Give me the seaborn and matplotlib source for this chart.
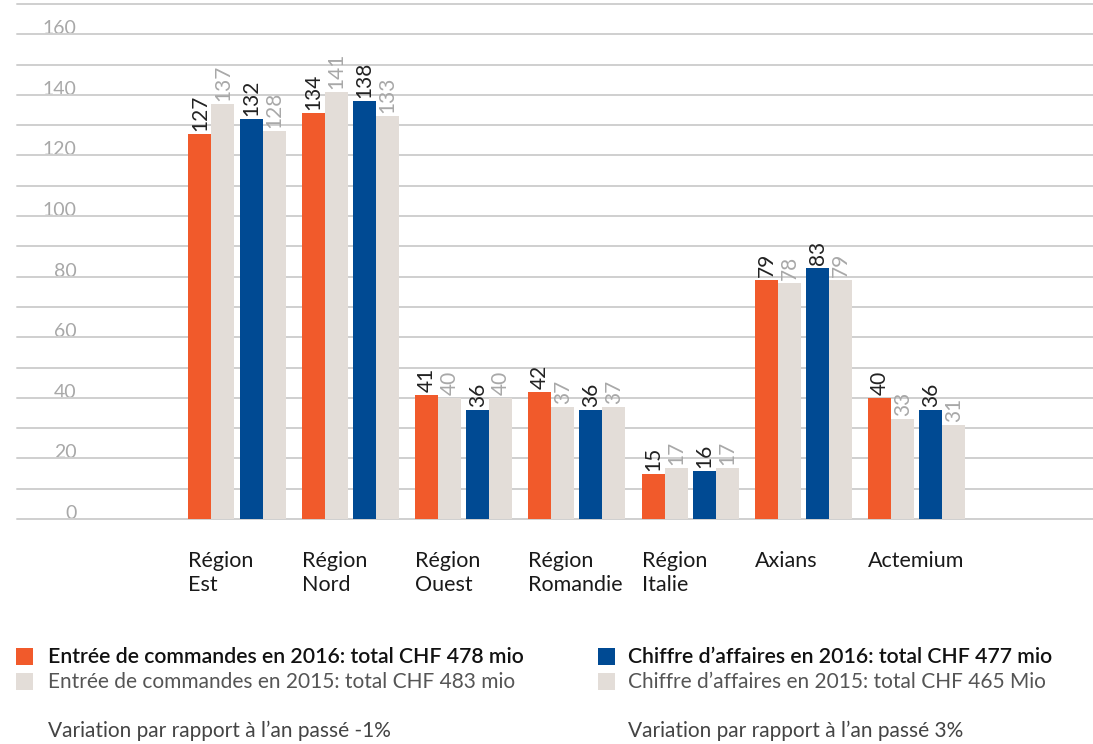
import matplotlib
matplotlib.use("Agg")
import matplotlib.pyplot as plt
import matplotlib.transforms as mtransforms
import numpy as np
import pandas as pd
import seaborn as sns

categories = ["Région\nEst", "Région\nNord", "Région\nOuest", "Région\nRomandie",
              "Région\nItalie", "Axians", "Actemium"]
commandes_2016 = [127, 134, 41, 42, 15, 79, 40]
commandes_2015 = [137, 141, 40, 37, 17, 78, 33]
chiffre_2016 = [132, 138, 36, 36, 16, 83, 36]
chiffre_2015 = [128, 133, 40, 37, 17, 79, 31]
y_ticks = [0, 20, 40, 60, 80, 100, 120, 140, 160]

legend_texts = [
    "Entrée de commandes en 2016: total CHF 478 mio",
    "Entrée de commandes en 2015: total CHF 483 mio",
    "Chiffre d’affaires en 2016: total CHF 477 mio",
    "Chiffre d’affaires en 2015: total CHF 465 Mio",
]
variation_texts = ["Variation par rapport à l’an passé -1%",
                   "Variation par rapport à l’an passé 3%"]

ORANGE = "#F15A2B"
BLUE = "#004A93"
LIGHT = "#E3DDD8"
GRID = "#CFCFCF"
TICKGRAY = "#A8A8A8"

sns.set_theme(style="white")
plt.rcParams["font.family"] = ["Lato", "DejaVu Sans"]

W, H = 1093, 744
fig = plt.figure(figsize=(W / 100, H / 100), dpi=100)
ax = fig.add_axes([17 / W, 1 - 519 / H, 1 - 17 / W, (519 - 4) / H])

n = len(categories)
idx = np.arange(n)
half = 0.2255
pair_w = 0.406

df_cmd = pd.DataFrame({
    "pos": np.concatenate([idx - half, idx - half]),
    "value": commandes_2016 + commandes_2015,
    "year": ["2016"] * n + ["2015"] * n,
})
df_ca = pd.DataFrame({
    "pos": np.concatenate([idx + half, idx + half]),
    "value": chiffre_2016 + chiffre_2015,
    "year": ["2016"] * n + ["2015"] * n,
})

sns.barplot(data=df_cmd, x="pos", y="value", hue="year", hue_order=["2016", "2015"],
            palette={"2016": ORANGE, "2015": LIGHT}, native_scale=True,
            width=pair_w, dodge=True, legend=False, errorbar=None,
            saturation=1, linewidth=0, ax=ax, zorder=3)
sns.barplot(data=df_ca, x="pos", y="value", hue="year", hue_order=["2016", "2015"],
            palette={"2016": BLUE, "2015": LIGHT}, native_scale=True,
            width=pair_w, dodge=True, legend=False, errorbar=None,
            saturation=1, linewidth=0, ax=ax, zorder=3)

# value labels
for container, col in zip(ax.containers, ["#222222", TICKGRAY, "#222222", TICKGRAY]):
    ax.bar_label(container, labels=[f"{v:.0f}" for v in container.datavalues],
                 rotation=90, padding=2, color=col, fontsize=15)

ax.set_xlim(-1.942, 7.555)
ax.set_ylim(0, 170)
ax.set_xlabel("")
ax.set_ylabel("")
ax.set_xticks([])

# gridlines every 10
for v in range(0, 171, 10):
    ax.axhline(v, color=GRID, lw=1.4, zorder=1, clip_on=False)

ax.set_yticks(y_ticks)
ax.set_yticklabels([str(t) for t in y_ticks], color=TICKGRAY, fontsize=14,
                   ha="right", va="baseline")
ax.tick_params(axis="y", length=0, pad=-43)
for s in ax.spines.values():
    s.set_visible(False)

# category labels under groups
trans = mtransforms.blended_transform_factory(ax.transData, fig.transFigure)
for i, cat in enumerate(categories):
    ax.text(i - half - pair_w / 2, 1 - 551 / H, cat, transform=trans,
            ha="left", va="top", fontsize=15.5, color="#1a1a1a", linespacing=1.28)

# legend
def sq(x, y, color):
    fig.patches.append(plt.Rectangle((x / W, 1 - (y + 17) / H), 17 / W, 17 / H,
                                     transform=fig.transFigure, color=color, lw=0))

sq(16, 648, ORANGE)
sq(16, 673, LIGHT)
sq(598, 648, BLUE)
sq(598, 673, LIGHT)
FSB = 15.3
FS = 15.0
fig.text(48 / W, 1 - 657 / H, legend_texts[0], fontsize=FSB, color="#111111",
         weight="semibold", va="center", ha="left")
fig.text(48 / W, 1 - 682 / H, legend_texts[1], fontsize=FS, color="#555555",
         va="center", ha="left")
fig.text(628 / W, 1 - 657 / H, legend_texts[2], fontsize=FSB, color="#111111",
         weight="semibold", va="center", ha="left")
fig.text(628 / W, 1 - 682 / H, legend_texts[3], fontsize=FS, color="#555555",
         va="center", ha="left")
fig.text(48 / W, 1 - 731 / H, variation_texts[0], fontsize=FS, color="#444444",
         va="center", ha="left")
fig.text(628 / W, 1 - 731 / H, variation_texts[1], fontsize=FS, color="#444444",
         va="center", ha="left")

fig.savefig("out.png", dpi=100)
